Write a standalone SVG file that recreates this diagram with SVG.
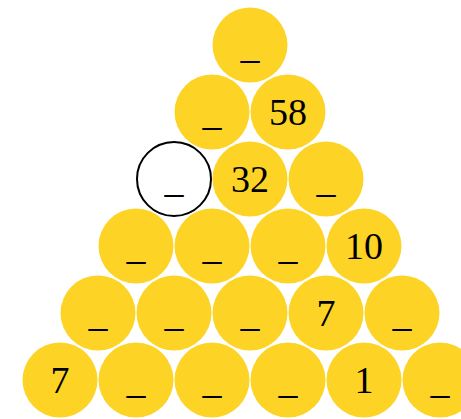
<svg xmlns="http://www.w3.org/2000/svg" width="461" height="419" viewBox="0 0 461 419">
<style>
.b{fill:#FDD426}
.w{fill:#fff;stroke:#000;stroke-width:2}
text{font-family:"Liberation Serif","Times New Roman",serif;font-size:38px;fill:#000;text-anchor:middle}
</style>
<rect width="461" height="419" fill="#fff"/>
<g id="r1c1"><circle class="b" cx="250" cy="45" r="37.5"/><text x="250" y="58">_</text></g>
<g id="r2c1"><circle class="b" cx="212" cy="112" r="37.5"/><text x="212" y="125">_</text></g>
<g id="r2c2"><circle class="b" cx="288" cy="112" r="37.5"/><text x="288" y="125">58</text></g>
<g id="r3c1"><circle class="w" cx="174" cy="179" r="37"/><text x="174" y="192">_</text></g>
<g id="r3c2"><circle class="b" cx="250" cy="179" r="37.5"/><text x="250" y="192">32</text></g>
<g id="r3c3"><circle class="b" cx="326" cy="179" r="37.5"/><text x="326" y="192">_</text></g>
<g id="r4c1"><circle class="b" cx="136" cy="246" r="37.5"/><text x="136" y="259">_</text></g>
<g id="r4c2"><circle class="b" cx="212" cy="246" r="37.5"/><text x="212" y="259">_</text></g>
<g id="r4c3"><circle class="b" cx="288" cy="246" r="37.5"/><text x="288" y="259">_</text></g>
<g id="r4c4"><circle class="b" cx="364" cy="246" r="37.5"/><text x="364" y="259">10</text></g>
<g id="r5c1"><circle class="b" cx="98" cy="313" r="37.5"/><text x="98" y="326">_</text></g>
<g id="r5c2"><circle class="b" cx="174" cy="313" r="37.5"/><text x="174" y="326">_</text></g>
<g id="r5c3"><circle class="b" cx="250" cy="313" r="37.5"/><text x="250" y="326">_</text></g>
<g id="r5c4"><circle class="b" cx="326" cy="313" r="37.5"/><text x="326" y="326">7</text></g>
<g id="r5c5"><circle class="b" cx="402" cy="313" r="37.5"/><text x="402" y="326">_</text></g>
<g id="r6c1"><circle class="b" cx="60" cy="380" r="37.5"/><text x="60" y="393">7</text></g>
<g id="r6c2"><circle class="b" cx="136" cy="380" r="37.5"/><text x="136" y="393">_</text></g>
<g id="r6c3"><circle class="b" cx="212" cy="380" r="37.5"/><text x="212" y="393">_</text></g>
<g id="r6c4"><circle class="b" cx="288" cy="380" r="37.5"/><text x="288" y="393">_</text></g>
<g id="r6c5"><circle class="b" cx="364" cy="380" r="37.5"/><text x="364" y="393">1</text></g>
<g id="r6c6"><circle class="b" cx="440" cy="380" r="37.5"/><text x="440" y="393">_</text></g>
<g id="connectors"/>
</svg>
